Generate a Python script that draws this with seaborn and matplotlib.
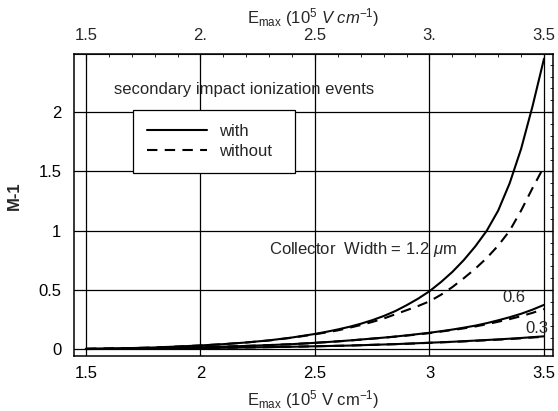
import numpy as np
import pandas as pd
import matplotlib
matplotlib.use("Agg")
import matplotlib.pyplot as plt
import seaborn as sns
from matplotlib.lines import Line2D
from matplotlib.ticker import MultipleLocator

# ---- data ----
e_max = [1.5, 1.6, 1.7, 1.8, 1.9, 2.0, 2.1, 2.2, 2.3, 2.4, 2.5,
         2.55, 2.6, 2.65, 2.7, 2.75, 2.8, 2.85, 2.9, 2.95, 3.0,
         3.05, 3.1, 3.15, 3.2, 3.25, 3.3, 3.35, 3.4, 3.45, 3.5]

w12_with = [0.004, 0.007, 0.011, 0.016, 0.024, 0.033, 0.044, 0.058, 0.076, 0.100, 0.130,
            0.148, 0.168, 0.190, 0.216, 0.246, 0.281, 0.322, 0.372, 0.427, 0.490,
            0.567, 0.653, 0.753, 0.868, 1.000, 1.170, 1.400, 1.690, 2.050, 2.450]
w12_without = [0.004, 0.007, 0.011, 0.016, 0.024, 0.033, 0.044, 0.058, 0.075, 0.098, 0.127,
               0.143, 0.160, 0.182, 0.205, 0.231, 0.260, 0.295, 0.330, 0.365, 0.405,
               0.460, 0.525, 0.600, 0.680, 0.770, 0.875, 1.000, 1.170, 1.360, 1.540]
w06_with = [0.004, 0.005, 0.007, 0.010, 0.014, 0.018, 0.023, 0.029, 0.036, 0.044, 0.055,
            0.061, 0.068, 0.075, 0.083, 0.091, 0.099, 0.108, 0.118, 0.129, 0.140,
            0.153, 0.167, 0.183, 0.200, 0.221, 0.245, 0.271, 0.300, 0.335, 0.375]
w06_without = [0.004, 0.005, 0.007, 0.010, 0.014, 0.018, 0.023, 0.029, 0.036, 0.044, 0.055,
               0.061, 0.067, 0.074, 0.082, 0.090, 0.098, 0.107, 0.116, 0.126, 0.137,
               0.150, 0.163, 0.177, 0.193, 0.212, 0.233, 0.255, 0.280, 0.308, 0.340]
w03_with = [0.003, 0.004, 0.005, 0.007, 0.009, 0.011, 0.013, 0.016, 0.019, 0.022, 0.026,
            0.028, 0.030, 0.032, 0.035, 0.038, 0.041, 0.044, 0.048, 0.052, 0.056,
            0.060, 0.064, 0.069, 0.074, 0.079, 0.084, 0.090, 0.096, 0.103, 0.110]
w03_without = [0.003, 0.004, 0.005, 0.007, 0.009, 0.011, 0.013, 0.016, 0.019, 0.022, 0.026,
               0.028, 0.030, 0.032, 0.035, 0.038, 0.041, 0.044, 0.047, 0.051, 0.055,
               0.059, 0.063, 0.067, 0.072, 0.077, 0.082, 0.087, 0.093, 0.100, 0.106]

x_ticks = [1.5, 2.0, 2.5, 3.0, 3.5]
x_tick_labels_bottom = ["1.5", "2", "2.5", "3", "3.5"]
x_tick_labels_top = ["1.5", "2.", "2.5", "3.", "3.5"]
y_ticks = [0, 0.5, 1, 1.5, 2]
y_tick_labels = ["0", "0.5", "1", "1.5", "2"]

rows = []
for width, wv, wov in [("1.2", w12_with, w12_without),
                       ("0.6", w06_with, w06_without),
                       ("0.3", w03_with, w03_without)]:
    for xv, a, b in zip(e_max, wv, wov):
        rows.append({"E": xv, "M1": a, "width": width, "events": "with"})
        rows.append({"E": xv, "M1": b, "width": width, "events": "without"})
df = pd.DataFrame(rows)

# ---- style ----
sns.set_style("white")
plt.rcParams["font.family"] = ["Liberation Sans", "DejaVu Sans"]
plt.rcParams["mathtext.fontset"] = "custom"
plt.rcParams["mathtext.rm"] = "Liberation Sans"
plt.rcParams["mathtext.it"] = "Liberation Sans:italic"
plt.rcParams["mathtext.bf"] = "Liberation Sans:bold"

FS = 12
DASH = (0, (5, 3.5))

fig = plt.figure(figsize=(5.58, 4.11), dpi=100)
ax = fig.add_axes([0.1326, 0.1338, 0.8579, 0.7348])

for width in ["1.2", "0.6", "0.3"]:
    for ev, ls in [("without", DASH), ("with", "-")]:
        sub = df[(df["width"] == width) & (df["events"] == ev)]
        sns.lineplot(data=sub, x="E", y="M1", ax=ax, color="black",
                     linewidth=1.5, linestyle=ls, legend=False, sort=True,
                     estimator=None)

ax.set_xlim(1.448, 3.538)
ax.set_ylim(-0.056, 2.49)

ax.set_xticks(x_ticks)
ax.set_xticklabels(x_tick_labels_bottom)
ax.set_yticks(y_ticks)
ax.set_yticklabels(y_tick_labels)
ax.xaxis.set_minor_locator(MultipleLocator(0.1))
ax.yaxis.set_minor_locator(MultipleLocator(0.1))
ax.tick_params(which="both", direction="in", top=True, right=True,
               labelsize=FS, colors="black")
ax.tick_params(which="major", length=4, width=0.8)
ax.tick_params(which="minor", length=2, width=0.6)
ax.tick_params(axis="x", which="major", pad=7)
ax.tick_params(axis="y", which="major", pad=9)
ax.grid(True, which="major", color="black", linewidth=0.9)
for s in ax.spines.values():
    s.set_color("black")
    s.set_linewidth(1.1)

ax.set_xlabel(r"E$_{\rm max}$ (10$^5$ V cm$^{-1}$)", fontsize=FS, labelpad=5)
ax.set_ylabel("M-1", fontsize=FS, fontweight="bold")
ax.yaxis.set_label_coords(-0.108, 0.53)

# top axis
top = ax.secondary_xaxis("top")
top.set_xticks(x_ticks)
top.set_xticklabels(x_tick_labels_top)
top.tick_params(which="both", direction="in", labelsize=FS, length=0, pad=8)
top.set_xlabel(r"E$_{\rm max}$ (10$^5$ $\it{V\ cm}$$^{-1}$)", fontsize=FS, labelpad=3)

# annotations
ax.text(0.084, 0.884, "secondary impact ionization events", transform=ax.transAxes,
        fontsize=FS, va="center", ha="left")
ax.text(2.30, 0.84, r"Collector  Width = 1.2 $\it{\mu}$m", fontsize=FS,
        va="center", ha="left")
ax.text(3.32, 0.44, "0.6", fontsize=FS, va="center", ha="left")
ax.text(3.42, 0.18, "0.3", fontsize=FS, va="center", ha="left")

handles = [Line2D([], [], color="black", linewidth=1.5, linestyle="-"),
           Line2D([], [], color="black", linewidth=1.5, linestyle=DASH)]
leg = ax.legend(handles, ["with", "without  "], loc="upper left",
                bbox_to_anchor=(0.123, 0.815), borderaxespad=0,
                fancybox=False, framealpha=1, edgecolor="black",
                fontsize=FS, handlelength=3.6, handletextpad=0.7,
                borderpad=0.85, labelspacing=0.3)
leg.get_frame().set_linewidth(0.9)

fig.savefig("out.png", dpi=100)
